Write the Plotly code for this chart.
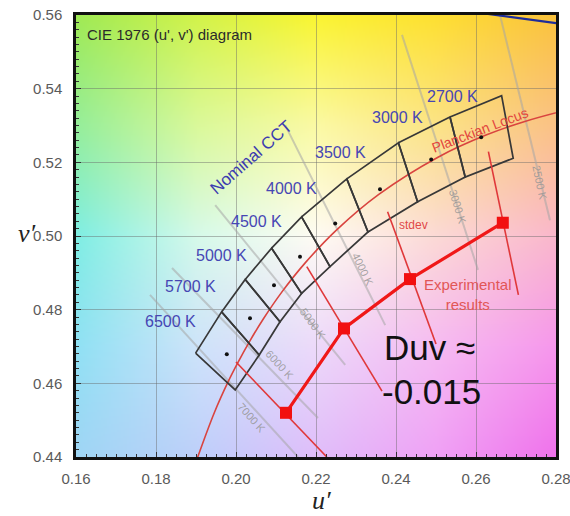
import base64
import struct
import zlib

import numpy as np
import plotly.graph_objects as go

# ---- chromaticity data (u', v') ----
# Planckian locus, sampled from ~10000 K up to ~2300 K
locus_u = [0.1904, 0.1946, 0.1981, 0.2004, 0.2033, 0.2069, 0.2114, 0.2173,
           0.2251, 0.2357, 0.2505, 0.2625, 0.2722, 0.2837]
locus_v = [0.4399, 0.4521, 0.4606, 0.4655, 0.4712, 0.4776, 0.4847, 0.4927,
           0.5016, 0.5113, 0.5214, 0.5274, 0.5311, 0.5345]

# Nominal CCT quadrangles (6500 K ... 2700 K): shared corner points
cct_names = ["6500 K", "5700 K", "5000 K", "4500 K", "4000 K", "3500 K", "3000 K", "2700 K"]
quad_upper_u = [0.1899, 0.1964, 0.2023, 0.2089, 0.2164, 0.2277, 0.2406, 0.2535, 0.2664]
quad_upper_v = [0.4682, 0.4794, 0.4882, 0.4967, 0.5052, 0.5155, 0.5253, 0.5323, 0.5381]
quad_lower_u = [0.1998, 0.2058, 0.2110, 0.2164, 0.2235, 0.2330, 0.2454, 0.2573, 0.2693]
quad_lower_v = [0.4582, 0.4677, 0.4767, 0.4844, 0.4917, 0.5011, 0.5093, 0.5160, 0.5211]
center_u = [0.1977, 0.2035, 0.2095, 0.2160, 0.2248, 0.2360, 0.2488, 0.2613]
center_v = [0.4679, 0.4777, 0.4866, 0.4944, 0.5034, 0.5127, 0.5208, 0.5268]

# Isotemperature lines
iso_names = ["7000 K", "6000 K", "5000 K", "4000 K", "3000 K", "2500 K"]
iso_u0 = [0.1785, 0.1840, 0.1948, 0.2123, 0.2415, 0.2660]
iso_v0 = [0.4840, 0.4913, 0.5084, 0.5301, 0.5546, 0.5600]
iso_u1 = [0.2155, 0.2205, 0.2273, 0.2373, 0.2605, 0.2785]
iso_v1 = [0.4400, 0.4506, 0.4650, 0.4758, 0.4908, 0.5043]

# Experimental results and their stdev segments
exp_u = [0.2125, 0.2270, 0.2435, 0.2667]
exp_v = [0.4520, 0.4749, 0.4883, 0.5036]
sd_top_u = [0.2000, 0.2177, 0.2379, 0.2631]
sd_top_v = [0.4658, 0.4917, 0.5066, 0.5229]
sd_bot_u = [0.2227, 0.2365, 0.2500, 0.2706]
sd_bot_v = [0.4400, 0.4579, 0.4707, 0.4840]

# Spectral locus piece (580-585 nm)
spec_u = [0.2623, 0.2960]
spec_v = [0.5604, 0.5554]

X_RANGE = [0.16, 0.28]
Y_RANGE = [0.44, 0.56]


def png_uri(rgb):
    h, w, _ = rgb.shape
    raw = b"".join(b"\x00" + rgb[r].tobytes() for r in range(h))

    def chunk(tag, data):
        body = tag + data
        return struct.pack(">I", len(data)) + body + struct.pack(">I", zlib.crc32(body) & 0xFFFFFFFF)

    png = (b"\x89PNG\r\n\x1a\n"
           + chunk(b"IHDR", struct.pack(">IIBBBBB", w, h, 8, 2, 0, 0, 0))
           + chunk(b"IDAT", zlib.compress(raw, 9))
           + chunk(b"IEND", b""))
    return "data:image/png;base64," + base64.b64encode(png).decode()


# colour backdrop: control colours, top row = high v', left col = low u'
ctrl = np.array([
    [(160, 234, 85), (210, 243, 75), (250, 245, 50), (254, 224, 50), (250, 194, 62)],
    [(150, 238, 155), (218, 249, 155), (251, 250, 165), (252, 228, 135), (250, 194, 135)],
    [(128, 238, 228), (214, 250, 234), (255, 252, 244), (252, 218, 214), (250, 184, 204)],
    [(145, 225, 244), (206, 228, 250), (237, 218, 250), (246, 188, 242), (246, 152, 236)],
    [(160, 214, 245), (190, 208, 250), (224, 190, 250), (240, 162, 246), (240, 115, 236)],
], dtype=float)
W, H = 240, 220
cx = np.linspace(0, 1, ctrl.shape[1])
cy = np.linspace(0, 1, ctrl.shape[0])
xs = np.linspace(0, 1, W)
ys = np.linspace(0, 1, H)
rows = np.empty((ctrl.shape[0], W, 3))
for i in range(ctrl.shape[0]):
    for c in range(3):
        rows[i, :, c] = np.interp(xs, cx, ctrl[i, :, c])
img = np.empty((H, W, 3))
for j in range(W):
    for c in range(3):
        img[:, j, c] = np.interp(ys, cy, rows[:, j, c])
backdrop = png_uri(np.clip(img, 0, 255).astype(np.uint8))

fig = go.Figure()

# isotemperature lines
for k in range(len(iso_names)):
    fig.add_trace(go.Scatter(x=[iso_u0[k], iso_u1[k]], y=[iso_v0[k], iso_v1[k]], mode="lines",
                             line=dict(color="rgba(165,165,165,0.55)", width=2), hoverinfo="skip"))

# Planckian locus
fig.add_trace(go.Scatter(x=locus_u, y=locus_v, mode="lines", line=dict(color="#d9443f", width=1.6),
                         line_shape="spline", hoverinfo="skip"))

# quadrangles
for k in range(len(cct_names)):
    qu = [quad_upper_u[k], quad_upper_u[k + 1], quad_lower_u[k + 1], quad_lower_u[k], quad_upper_u[k]]
    qv = [quad_upper_v[k], quad_upper_v[k + 1], quad_lower_v[k + 1], quad_lower_v[k], quad_upper_v[k]]
    fig.add_trace(go.Scatter(x=qu, y=qv, mode="lines", line=dict(color="#383838", width=1.7),
                             name=cct_names[k], hoverinfo="skip"))
fig.add_trace(go.Scatter(x=center_u, y=center_v, mode="markers",
                         marker=dict(color="#111111", size=4), hoverinfo="skip"))

# stdev segments
for k in range(len(exp_u)):
    fig.add_trace(go.Scatter(x=[sd_top_u[k], sd_bot_u[k]], y=[sd_top_v[k], sd_bot_v[k]], mode="lines",
                             line=dict(color="#e0383a", width=1.6), hoverinfo="skip"))

# experimental results
fig.add_trace(go.Scatter(x=exp_u, y=exp_v, mode="lines+markers",
                         line=dict(color="#f01818", width=3.2),
                         marker=dict(symbol="square", size=12, color="#f21010"), hoverinfo="skip"))

# spectral locus
fig.add_trace(go.Scatter(x=spec_u, y=spec_v, mode="lines", line=dict(color="#1e2c9a", width=2.2),
                         hoverinfo="skip"))

fig.add_layout_image(dict(source=backdrop, xref="x", yref="y", x=X_RANGE[0], y=Y_RANGE[1],
                          sizex=X_RANGE[1] - X_RANGE[0], sizey=Y_RANGE[1] - Y_RANGE[0],
                          sizing="stretch", layer="below"))

ann = []
SANS = "Liberation Sans, Arial, sans-serif"

ann.append(dict(x=0.16225, y=0.5548, xanchor="left", text="CIE 1976 (u', v') diagram",
                font=dict(family=SANS, size=15, color="#2b2b2b")))

cct_label_pos = [(0.1835, 0.4768), (0.1885, 0.4864), (0.1964, 0.4946), (0.2052, 0.5040),
                 (0.2139, 0.5128), (0.2260, 0.5227), (0.2403, 0.5322), (0.2541, 0.5380)]
for name, (lx, ly) in zip(cct_names, cct_label_pos):
    ann.append(dict(x=lx, y=ly, text=name, font=dict(family=SANS, size=16, color="#4646b4")))
ann.append(dict(x=0.2038, y=0.5214, text="Nominal CCT", textangle=-41,
                font=dict(family=SANS, size=17, color="#3c3cb0")))

iso_label_pos = [(0.2040, 0.4506, 48), (0.2110, 0.4650, 47), (0.2193, 0.4761, 54),
                 (0.2318, 0.4908, 64), (0.2555, 0.5079, 73), (0.2760, 0.5144, 78)]
for name, (lx, ly, ang) in zip(iso_names, iso_label_pos):
    ann.append(dict(x=lx, y=ly, text=name, textangle=ang,
                    font=dict(family=SANS, size=11, color="rgba(150,150,150,0.85)")))

ann.append(dict(x=0.2610, y=0.5288, text="Planckian Locus", textangle=-21,
                font=dict(family=SANS, size=14, color="#e2443e")))
ann.append(dict(x=0.2443, y=0.5030, text="stdev", font=dict(family=SANS, size=12, color="#e04848")))
ann.append(dict(x=0.2580, y=0.4840, text="Experimental<br>results",
                font=dict(family=SANS, size=15, color="#e25656")))
ann.append(dict(x=0.2365, y=0.4696, xanchor="left", text="Duv ≈",
                font=dict(family=SANS, size=35, color="#111111")))
ann.append(dict(x=0.2360, y=0.4578, xanchor="left", text="-0.015",
                font=dict(family=SANS, size=35, color="#111111")))

# axis titles
SERIF = "Liberation Serif, Times New Roman, serif"
ann.append(dict(xref="paper", yref="paper", x=-0.124, y=0.505, text="<i>v′</i>",
                font=dict(family=SERIF, size=26, color="#222222")))
ann.append(dict(xref="paper", yref="paper", x=0.512, y=-0.135, text="<i>u′</i>",
                font=dict(family=SERIF, size=26, color="#222222")))

for a in ann:
    a.setdefault("showarrow", False)
    a.setdefault("xref", "x")
    a.setdefault("yref", "y")

tick_font = dict(family=SANS, size=15, color="#5a5a5a")
axis_common = dict(showgrid=True, gridcolor="rgba(105,105,105,0.45)", gridwidth=1,
                   showline=True, linecolor="#111111", linewidth=2.5, mirror=True,
                   ticks="inside", ticklen=5, tickcolor="#333333", tickfont=tick_font,
                   tickformat=".2f", zeroline=False, fixedrange=True, automargin=False,
                   ticklabeloverflow="allow")

fig.update_layout(
    width=570, height=516,
    margin=dict(l=76, r=14, t=15, b=59),
    paper_bgcolor="white", plot_bgcolor="white",
    showlegend=False,
    xaxis=dict(range=X_RANGE, dtick=0.02, tick0=0.16, ticklabelstandoff=6,
               minor=dict(dtick=0.0025, ticks="inside", ticklen=3, tickcolor="#333333", showgrid=False),
               **axis_common),
    yaxis=dict(range=Y_RANGE, dtick=0.02, tick0=0.44, ticklabelstandoff=8,
               minor=dict(dtick=0.002, ticks="inside", ticklen=3, tickcolor="#333333", showgrid=False),
               **axis_common),
    annotations=ann,
)

fig.write_html("out.html")
